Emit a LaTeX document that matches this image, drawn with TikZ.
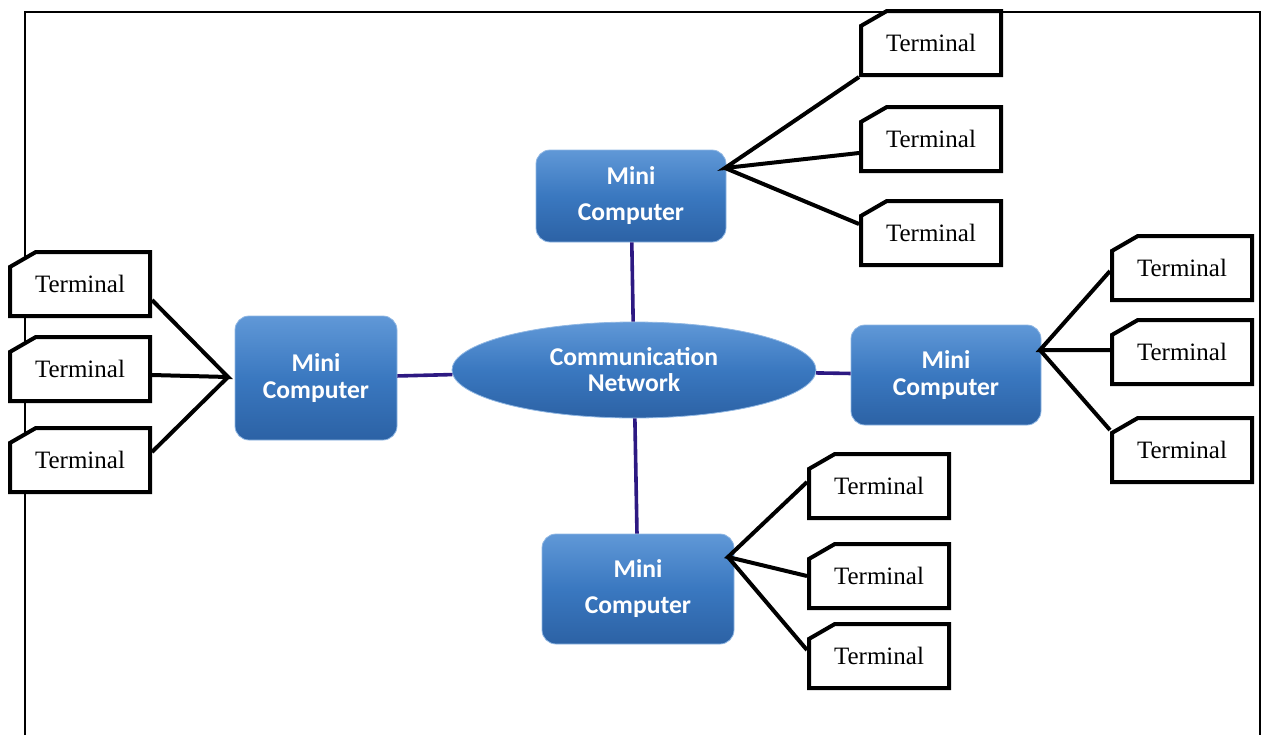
\documentclass[tikz,border=0pt]{standalone}
\usepackage{fontspec}
\setmainfont{Liberation Serif}
\newfontfamily\mcfont{Carlito}
\usetikzlibrary{positioning, shapes.geometric, shapes.misc, calc}
\definecolor{mcblue}{RGB}{58,120,192}
\definecolor{mctop}{RGB}{96,152,215}
\definecolor{mcbot}{RGB}{44,98,165}
\definecolor{linkcol}{RGB}{45,25,130}

\tikzset{
    term/.style={chamfered rectangle, chamfered rectangle corners=north west,
        chamfered rectangle angle=60, chamfered rectangle xsep=12.5pt,
        draw, line width=2pt, fill=white, minimum width=70pt, minimum height=32pt,
        inner sep=0pt, font=\fontsize{12.5}{14}\selectfont},
    mini/.style={rounded corners=7pt, draw=mctop!70!white, thin,
        top color=mctop, bottom color=mcbot, middle color=mcblue,
        text=white, align=center, font=\mcfont\bfseries\fontsize{12.8}{18}\selectfont},
    netw/.style={ellipse, draw=mctop!70!white, thin,
        top color=mctop, bottom color=mcbot, middle color=mcblue,
        text=white, align=center, minimum width=182pt, minimum height=48pt,
        font=\mcfont\bfseries\fontsize{12.8}{13}\selectfont},
    link/.style={linkcol, line width=1.8pt},
    wire/.style={black, line width=2pt}
}

\begin{document}
\begin{tikzpicture}[x=0.5pt, y=-0.5pt]
    \useasboundingbox (0,0) rectangle (1266,735);
    % frame
    \draw[line width=1pt] (25,735) -- (25,12) -- (1260,12) -- (1260,735);

    % network and mini computers
    \node[netw] (net) at (634,370) {Communication\\Network};
    \node[mini, minimum width=95pt, minimum height=46pt] (mcTop) at (631,196) {Mini\\Computer};
    \node[mini, minimum width=81pt, minimum height=62pt, font=\mcfont\bfseries\fontsize{12.8}{13.5}\selectfont] (mcLeft) at (316,378) {Mini\\Computer};
    \node[mini, minimum width=95pt, minimum height=50pt, font=\mcfont\bfseries\fontsize{12.8}{13.5}\selectfont] (mcRight) at (946,375) {Mini\\Computer};
    \node[mini, minimum width=96pt, minimum height=55pt] (mcBot) at (638,589) {Mini\\Computer};

    \draw[link] (mcTop) -- (net);
    \draw[link] (mcLeft) -- (net);
    \draw[link] (net) -- (mcRight);
    \draw[link] (net) -- (mcBot);

    % terminals
    \node[term] (tt1) at (931,43) {Terminal};
    \node[term] (tt2) at (931,139) {Terminal};
    \node[term] (tt3) at (931,233) {Terminal};
    \node[term] (lt1) at (80,284) {Terminal};
    \node[term] (lt2) at (80,369) {Terminal};
    \node[term] (lt3) at (80,460) {Terminal};
    \node[term] (rt1) at (1182,268) {Terminal};
    \node[term] (rt2) at (1182,352) {Terminal};
    \node[term] (rt3) at (1182,450) {Terminal};
    \node[term] (bt1) at (879,486) {Terminal};
    \node[term] (bt2) at (879,576) {Terminal};
    \node[term] (bt3) at (879,656) {Terminal};

    % hubs where the wires meet
    \coordinate (hubT) at (725,168);
    \coordinate (hubL) at (228,377);
    \coordinate (hubR) at (1040,350);
    \coordinate (hubB) at (728,557);

    \draw[wire] (tt1.south west) -- (hubT) -- ($(tt2.west)+(0,14)$);
    \draw[wire] (hubT) -- ($(tt3.west)+(0,-9)$);
    \draw[wire] ($(lt1.east)+(0,16)$) -- (hubL) -- ($(lt2.east)+(0,6)$);
    \draw[wire] (hubL) -- ($(lt3.east)+(0,-8)$);
    \draw[wire] ($(rt1.west)+(0,3)$) -- (hubR) -- ($(rt2.west)+(0,-2)$);
    \draw[wire] (hubR) -- ($(rt3.west)+(0,-20)$);
    \draw[wire] ($(bt1.west)+(0,-4)$) -- (hubB) -- (bt2.west);
    \draw[wire] (hubB) -- ($(bt3.west)+(0,-6)$);
\end{tikzpicture}
\end{document}
